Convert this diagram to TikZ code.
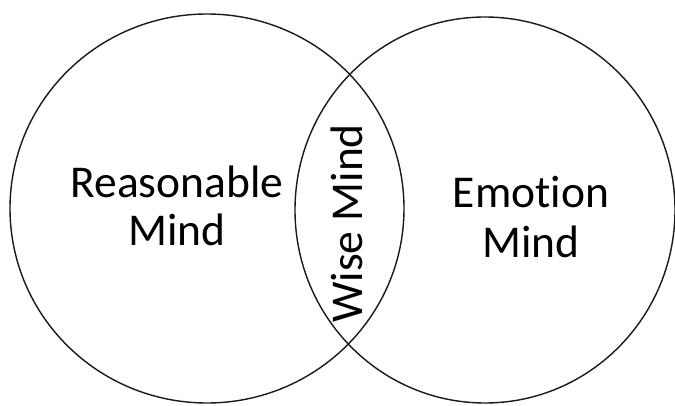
\documentclass[tikz,border=0pt]{standalone}
\usepackage{fontspec}
\setmainfont{Carlito}[Ligatures=NoCommon]
\pgfdeclareradialshading{rimshade}{\pgfpoint{0bp}{0bp}}{color(0bp)=(white); color(42bp)=(white); color(50bp)=(black!14); color(100bp)=(black!14)}
\begin{document}
\begin{tikzpicture}[x=1pt,y=1pt,
  mindlabel/.style={font=\fontsize{45.5}{48}\selectfont, align=center, inner sep=0pt, text=black},
  outline/.style={draw=black!90, line width=1.4pt}]
\useasboundingbox (0,0) rectangle (675,405);
% fills
\path[shading=rimshade] (207,196.5) ellipse [x radius=197, y radius=194.5];
\path[shading=rimshade] (485,195) ellipse [x radius=190, y radius=193];
% outlines
\draw[outline] (207,196.5) ellipse [x radius=197, y radius=194.5];
\draw[outline] (485,195) ellipse [x radius=190, y radius=193];
% labels
\node[mindlabel, anchor=base] (reasonable) at (177,160) {Reasonable\\Mind};
\node[mindlabel, anchor=base, font=\fontsize{45.5}{50}\selectfont] (emotion) at (531,148) {Emotion\\Mind};
\node[mindlabel, anchor=base, rotate=90] (wise) at (362,181.5) {Wise Mind};
\end{tikzpicture}
\end{document}
